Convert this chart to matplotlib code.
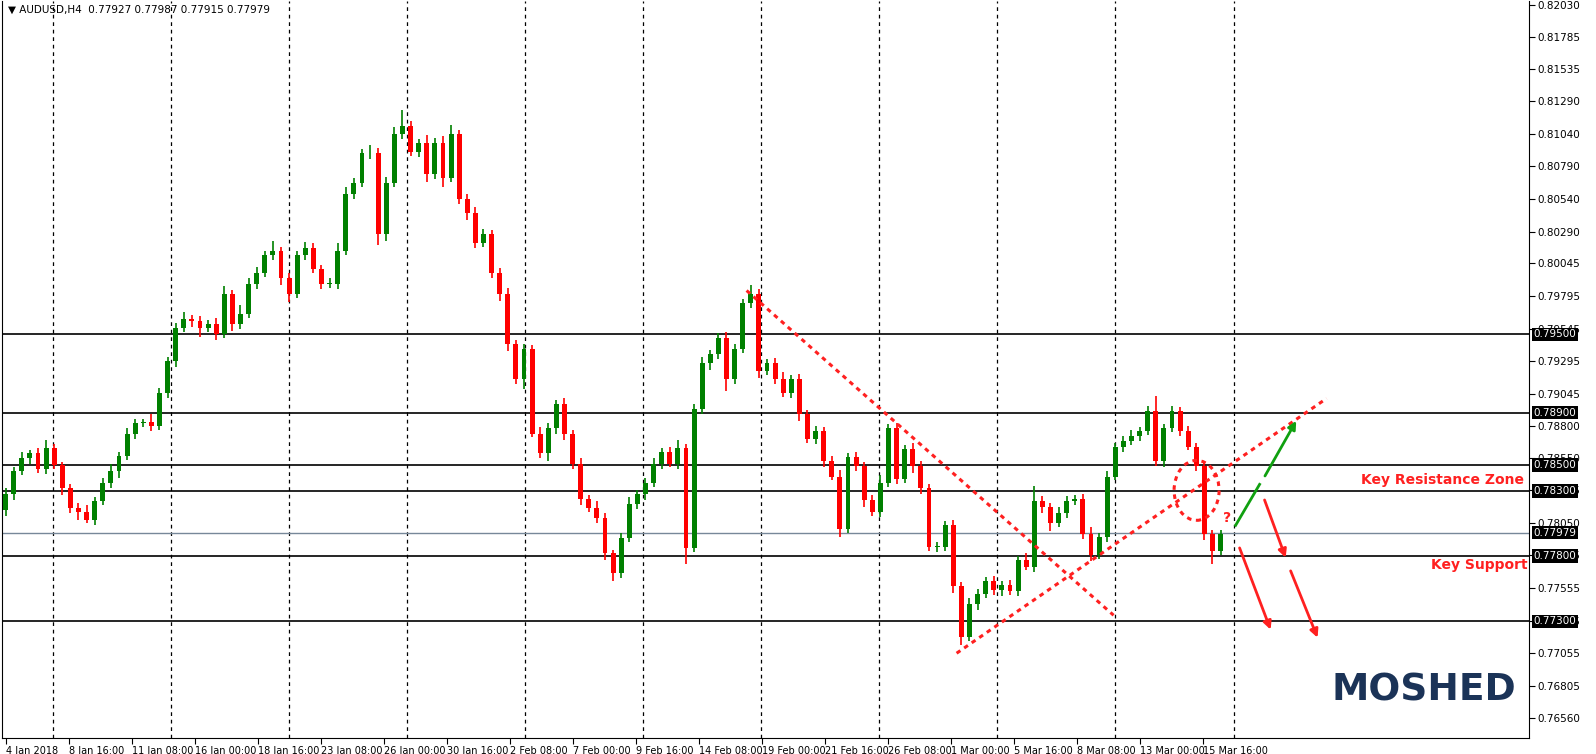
import matplotlib.pyplot as plt
from matplotlib.patches import Ellipse

plt.rcParams['font.family'] = ['DejaVu Sans']

# 收盘价 (每根约 8 小时, 从图上读取)
closes = [
    0.7828, 0.7845, 0.7855, 0.7859, 0.7847, 0.7863, 0.7850, 0.7832, 0.7817, 0.7814,
    0.7808, 0.7822, 0.7836, 0.7845, 0.7857, 0.7874, 0.7882, 0.7883, 0.7880, 0.7905,
    0.7930, 0.7955, 0.7962, 0.7960, 0.7955, 0.7958, 0.7950, 0.7981, 0.7958, 0.7966,
    0.7989, 0.7997, 0.8011, 0.8014, 0.7993, 0.7981, 0.8011, 0.8016, 0.8000, 0.7989,
    0.7989, 0.8014, 0.8058, 0.8066, 0.8089, 0.8089, 0.8027, 0.8066, 0.8104, 0.8110,
    0.8090, 0.8097, 0.8073, 0.8097, 0.8070, 0.8104, 0.8054, 0.8043, 0.8020, 0.8027,
    0.7997, 0.7981, 0.7943, 0.7916, 0.7939, 0.7874, 0.7859, 0.7878, 0.7897, 0.7874,
    0.7851, 0.7824, 0.7817, 0.7809, 0.7782, 0.7767, 0.7794, 0.7820, 0.7828, 0.7836,
    0.7851, 0.7860, 0.7851, 0.7863, 0.7786, 0.7893, 0.7928, 0.7935, 0.7947, 0.7916,
    0.7939, 0.7974, 0.7981, 0.7922, 0.7928, 0.7916, 0.7905, 0.7916, 0.7889, 0.7870,
    0.7876, 0.7853, 0.7841, 0.7801, 0.7856, 0.7849, 0.7823, 0.7814, 0.7836, 0.7878,
    0.7839, 0.7862, 0.7849, 0.7832, 0.7787, 0.7787, 0.7804, 0.7757, 0.7718, 0.7743,
    0.7751, 0.7761, 0.7754, 0.7758, 0.7753, 0.7777, 0.7772, 0.7822, 0.7818, 0.7805,
    0.7813, 0.7822, 0.7824, 0.7797, 0.7781, 0.7795, 0.7841, 0.7864, 0.7868, 0.7872,
    0.7876, 0.7891, 0.7853, 0.7878, 0.7891, 0.7876, 0.7864, 0.7849, 0.7797, 0.7784,
    0.7797,
]
first_open = 0.7815
# 影线长度
wick_up = [
    0.0004, 0.0003, 0.0005, 0.0002, 0.0004, 0.0006, 0.0003, 0.0002, 0.0003, 0.0004,
    0.0005, 0.0003, 0.0004, 0.0006, 0.0003, 0.0004, 0.0003, 0.0002, 0.0006, 0.0004,
    0.0003, 0.0004, 0.0005, 0.0003, 0.0004, 0.0003, 0.0005, 0.0006, 0.0003, 0.0007,
    0.0004, 0.0005, 0.0003, 0.0008, 0.0003, 0.0004, 0.0003, 0.0005, 0.0004, 0.0003,
    0.0004, 0.0006, 0.0005, 0.0004, 0.0003, 0.0006, 0.0004, 0.0005, 0.0005, 0.0012,
    0.0004, 0.0003, 0.0006, 0.0004, 0.0005, 0.0007, 0.0003, 0.0004, 0.0005, 0.0004,
    0.0003, 0.0004, 0.0005, 0.0003, 0.0004, 0.0003, 0.0005, 0.0004, 0.0003, 0.0004,
    0.0003, 0.0004, 0.0003, 0.0005, 0.0004, 0.0003, 0.0004, 0.0005, 0.0003, 0.0004,
    0.0004, 0.0003, 0.0004, 0.0006, 0.0003, 0.0004, 0.0005, 0.0003, 0.0004, 0.0005,
    0.0004, 0.0003, 0.0007, 0.0004, 0.0003, 0.0004, 0.0005, 0.0003, 0.0004, 0.0003,
    0.0004, 0.0003, 0.0004, 0.0005, 0.0003, 0.0004, 0.0003, 0.0004, 0.0006, 0.0003,
    0.0004, 0.0003, 0.0005, 0.0004, 0.0003, 0.0004, 0.0003, 0.0004, 0.0003, 0.0005,
    0.0004, 0.0003, 0.0004, 0.0003, 0.0004, 0.0003, 0.0005, 0.0012, 0.0004, 0.0003,
    0.0005, 0.0004, 0.0003, 0.0004, 0.0005, 0.0003, 0.0004, 0.0003, 0.0004, 0.0005,
    0.0003, 0.0004, 0.0012, 0.0003, 0.0004, 0.0003, 0.0004, 0.0003, 0.0004, 0.0003,
    0.0003,
]
wick_dn = [
    0.0004, 0.0005, 0.0003, 0.0004, 0.0003, 0.0004, 0.0003, 0.0005, 0.0004, 0.0006,
    0.0003, 0.0004, 0.0003, 0.0004, 0.0005, 0.0003, 0.0004, 0.0003, 0.0004, 0.0003,
    0.0004, 0.0005, 0.0003, 0.0004, 0.0007, 0.0003, 0.0004, 0.0003, 0.0005, 0.0004,
    0.0003, 0.0004, 0.0003, 0.0004, 0.0005, 0.0006, 0.0003, 0.0004, 0.0003, 0.0004,
    0.0003, 0.0004, 0.0003, 0.0004, 0.0003, 0.0004, 0.0008, 0.0005, 0.0003, 0.0004,
    0.0003, 0.0004, 0.0006, 0.0004, 0.0007, 0.0003, 0.0004, 0.0005, 0.0004, 0.0003,
    0.0004, 0.0005, 0.0006, 0.0004, 0.0008, 0.0003, 0.0004, 0.0006, 0.0004, 0.0005,
    0.0004, 0.0005, 0.0003, 0.0004, 0.0005, 0.0006, 0.0004, 0.0003, 0.0004, 0.0005,
    0.0003, 0.0004, 0.0003, 0.0004, 0.0012, 0.0003, 0.0004, 0.0005, 0.0004, 0.0009,
    0.0004, 0.0003, 0.0004, 0.0005, 0.0003, 0.0004, 0.0003, 0.0004, 0.0005, 0.0003,
    0.0004, 0.0005, 0.0003, 0.0006, 0.0003, 0.0004, 0.0005, 0.0003, 0.0004, 0.0003,
    0.0004, 0.0003, 0.0005, 0.0004, 0.0003, 0.0004, 0.0003, 0.0005, 0.0006, 0.0003,
    0.0004, 0.0003, 0.0004, 0.0005, 0.0003, 0.0004, 0.0003, 0.0004, 0.0005, 0.0006,
    0.0003, 0.0004, 0.0003, 0.0004, 0.0005, 0.0003, 0.0004, 0.0003, 0.0004, 0.0003,
    0.0004, 0.0003, 0.0004, 0.0005, 0.0003, 0.0004, 0.0003, 0.0004, 0.0005, 0.0010,
    0.0003,
]

date_labels = ['4 Jan 2018', '8 Jan 16:00', '11 Jan 08:00', '16 Jan 00:00', '18 Jan 16:00',
               '23 Jan 08:00', '26 Jan 00:00', '30 Jan 16:00', '2 Feb 08:00', '7 Feb 00:00',
               '9 Feb 16:00', '14 Feb 08:00', '19 Feb 00:00', '21 Feb 16:00', '26 Feb 08:00',
               '1 Mar 00:00', '5 Mar 16:00', '8 Mar 08:00', '13 Mar 00:00', '15 Mar 16:00']
y_ticks = [0.82030, 0.81785, 0.81535, 0.81290, 0.81040, 0.80790, 0.80540, 0.80290,
           0.80045, 0.79795, 0.79545, 0.79295, 0.79045, 0.78800, 0.78550, 0.78305,
           0.78050, 0.77805, 0.77555, 0.77305, 0.77055, 0.76805, 0.76560]
levels = [0.7950, 0.7890, 0.7850, 0.7830, 0.7780, 0.7730]
last_price = 0.77979

AX_W = 1527  # 绘图区宽度(像素)

# 像素 -> 数据坐标
def px_x(p):
    return (p - 4) / 8.1

def px_y(p):
    return 0.7950 + (334 - p) / 13045

fig = plt.figure(figsize=(15.96, 7.54), dpi=100)
ax = fig.add_axes([0.001, 0.021, AX_W / 1596, 0.978])

opens = [first_open] + closes[:-1]
for i, (o, c) in enumerate(zip(opens, closes)):
    col = 'green' if c >= o else 'red'
    hi = max(o, c) + wick_up[i]
    lo = min(o, c) - wick_dn[i]
    ax.vlines(i, lo, hi, color=col, lw=1.2, zorder=3)
    ax.bar(i, max(abs(c - o), 0.00004), bottom=min(o, c), width=0.6, color=col, zorder=4)

# 网格线
for k in range(11):
    ax.axvline(px_x(51 + 118.1 * k), color='black', ls=(0, (3, 3)), lw=0.9, zorder=1)

def level_box(v):
    ax.text(1.003, v, f'{v:.5f}', transform=ax.get_yaxis_transform(), va='center', ha='left',
            color='white', fontsize=7.5, zorder=10,
            bbox=dict(facecolor='black', edgecolor='none', pad=1.2))

for lv in levels:
    ax.axhline(lv, color='black', lw=1.2, zorder=2)
    level_box(lv)
ax.axhline(last_price, color='#778899', lw=1.0, zorder=2)
level_box(last_price)

# 趋势线
red = '#ff2020'
ax.plot([px_x(745), px_x(1112)], [px_y(290), px_y(615)], color=red, ls=(0, (1.5, 1.5)), lw=2.2, zorder=5)
ax.plot([px_x(955), px_x(1325)], [px_y(653), px_y(398)], color=red, ls=(0, (1.5, 1.5)), lw=2.2, zorder=5)
ax.add_patch(Ellipse((px_x(1195), px_y(490)), 45 / 8.1, 60 / 13045, fill=False, ec=red,
                     ls=(0, (1.5, 1.5)), lw=2.2, zorder=5))

def arrow(x0, y0, x1, y1, col):
    ax.annotate('', xy=(px_x(x1), px_y(y1)), xytext=(px_x(x0), px_y(y0)),
                arrowprops=dict(arrowstyle='-|>', color=col, lw=2, mutation_scale=12), zorder=6)

ax.plot([px_x(1234), px_x(1258)], [px_y(525), px_y(484)], color='#10a010', lw=2, zorder=6)
arrow(1262, 478, 1296, 418, '#10a010')
arrow(1262, 497, 1285, 560, red)
arrow(1237, 545, 1270, 632, red)
arrow(1288, 568, 1317, 640, red)
ax.text(px_x(1225), px_y(518), '?', color=red, fontsize=10, fontweight='bold', ha='center', va='center')
ax.text(px_x(1441), px_y(480), 'Key Resistance Zone', color=red, fontsize=10, fontweight='bold',
        ha='center', va='center')
ax.text(px_x(1478), px_y(565), 'Key Support', color=red, fontsize=10, fontweight='bold',
        ha='center', va='center')
ax.text(px_x(1422), px_y(690), 'MOSHED', color='#1b3357', fontsize=27, fontweight='bold',
        ha='center', va='center')
ax.text(0.004, 0.995, '\u25bc AUDUSD,H4  0.77927 0.77987 0.77915 0.77979', transform=ax.transAxes,
        fontsize=7.5, va='top', ha='left')

ax.set_xlim(px_x(0), px_x(AX_W))
ax.set_ylim(px_y(738), px_y(0))
ax.set_xticks([px_x(4 + 63 * k) for k in range(len(date_labels))])
ax.set_xticklabels(date_labels, fontsize=7, ha='left')
ax.tick_params(axis='x', length=4, pad=2)
ax.yaxis.tick_right()
ax.set_yticks(y_ticks)
ax.set_yticklabels([f'{v:.5f}' for v in y_ticks], fontsize=7.5)
ax.tick_params(axis='y', length=4, pad=2)
ax.spines['top'].set_visible(False)

fig.savefig('out.png', dpi=100)
